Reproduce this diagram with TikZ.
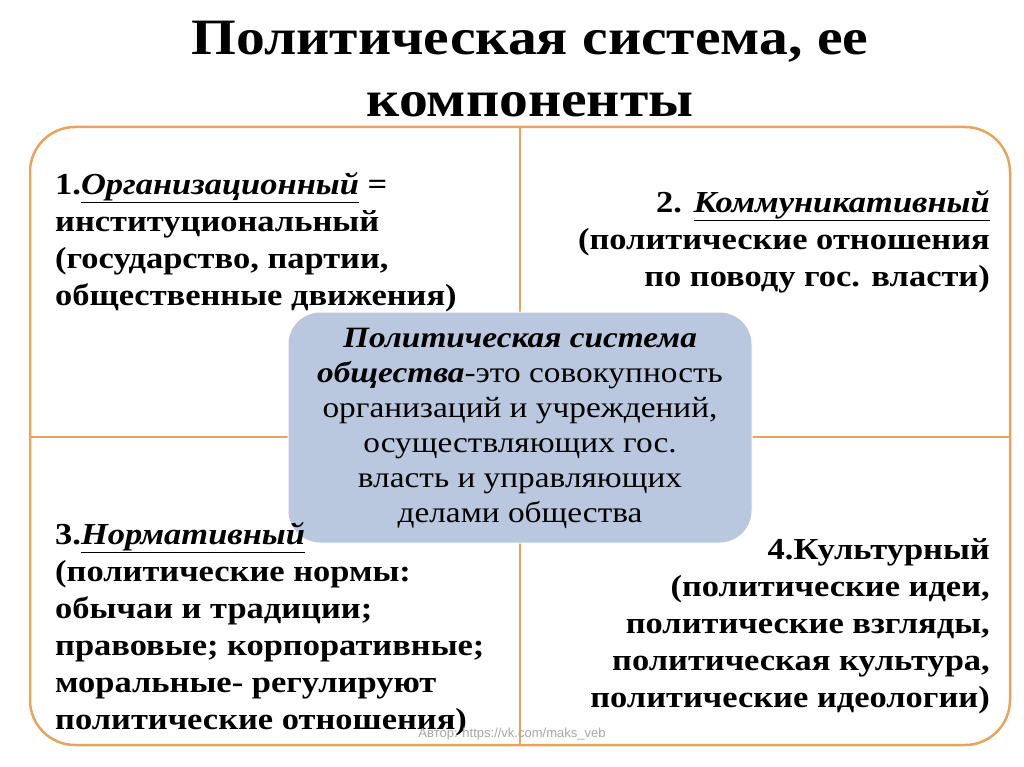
\documentclass[tikz,border=0pt]{standalone}
\usepackage{fontspec}
\setmainfont[FakeStretch=1.13]{Liberation Serif}
\newfontfamily\wmfont{Liberation Sans}
\definecolor{orng}{HTML}{E8A45A}
\definecolor{cbox}{HTML}{B9C8DE}
\tikzset{
 quad/.style={font=\bfseries\fontsize{30.5}{37}\selectfont, inner sep=0pt},
 ctext/.style={font=\fontsize{29.5}{35}\selectfont, align=center, inner sep=0pt}
}
\begin{document}
\begin{tikzpicture}[x=1pt,y=-1pt]
\useasboundingbox (0,0) rectangle (1024,767);
\node[font=\bfseries\fontsize{51}{62}\selectfont, align=center] (title) at (530,69) {Политическая система, ее\\компоненты};
\draw[orng, line width=2.5pt, rounded corners=45pt] (30,127) rectangle (1010,745);
\coordinate (vt) at (520,127); \coordinate (vb) at (520,745);
\coordinate (hl) at (30,437); \coordinate (hr) at (1010,437);
\draw[orng, line width=2pt] (vt) -- (vb) (hl) -- (hr);
\node[fill=cbox, draw=white, line width=1pt, rounded corners=32pt, minimum width=464pt, minimum height=231pt] (center) at (520,427.5) {};
\node[ctext] (ct) at (520,428) {\textbf{\textit{Политическая система}}\\\textbf{\textit{общества}}-это совокупность\\организаций и учреждений,\\осуществляющих гос.\\власть и управляющих\\делами общества};
\node[quad, anchor=north west, align=left] (q1) at (55,172) {1.\underline{\textit{Организационный}} =\\институциональный\\(государство, партии,\\общественные движения)};
\node[quad, anchor=north east, align=right] (q2) at (990,190) {2. \underline{\textit{Коммуникативный}}\\(политические отношения\\по поводу гос. власти)};
\node[quad, anchor=north west, align=left] (q3) at (55,522) {3.\underline{\textit{Нормативный}}\\(политические нормы:\\обычаи и традиции;\\правовые; корпоративные;\\моральные- регулируют\\политические отношения)};
\node[quad, anchor=north east, align=right] (q4) at (990,538) {4.Культурный\\(политические идеи,\\политические взгляды,\\политическая культура,\\политические идеологии)};
\node[font=\wmfont\fontsize{13}{15}\selectfont, text=gray!70] (wm) at (512,734) {Автор: https://vk.com/maks\_veb};
\end{tikzpicture}
\end{document}
